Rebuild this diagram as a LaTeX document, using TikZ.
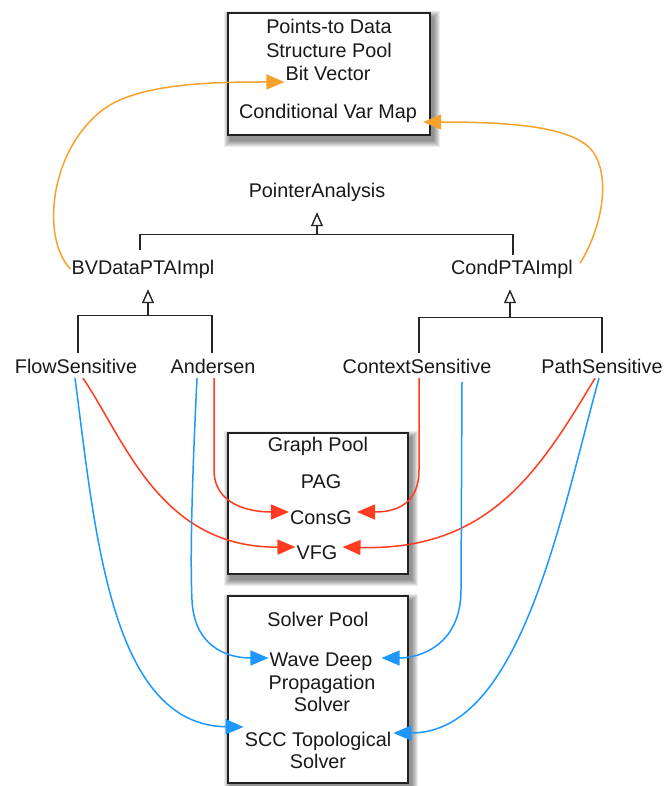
\documentclass[tikz,border=0pt]{standalone}
\usepackage{fontspec}
\setmainfont{Liberation Sans}
\usetikzlibrary{arrows.meta,backgrounds}
\definecolor{lnorange}{RGB}{247,162,43}
\definecolor{lnred}{RGB}{255,60,32}
\definecolor{lnblue}{RGB}{30,152,255}
\definecolor{boxline}{RGB}{34,34,34}

\begin{document}
\begin{tikzpicture}[x=1pt,y=-1pt,
  lbl/.style={font=\fontsize{19.8}{23}\selectfont, text=black!90, inner sep=1pt,
    text height=14pt, text depth=4pt},
  pool/.style={draw=boxline, line width=1.7pt, fill=white, inner sep=0pt},
  bar/.style={draw=black!85, line width=1.4pt},
  inh/.style={bar, -{Triangle[open,length=14pt,width=12pt]}},
  link/.style={line width=1.5pt, -{Triangle[length=18pt,width=15pt]}},
  bvlink/.style={link, color=lnorange},
  graphlink/.style={link, color=lnred},
  solverlink/.style={link, color=lnblue}]

\useasboundingbox (0,0) rectangle (665,786);

% pools
\node[pool, minimum width=202pt, minimum height=122pt] (dsp) at (329,74) {};
\node[pool, minimum width=180pt, minimum height=141pt] (gpool) at (318,503.5) {};
\node[pool, minimum width=180pt, minimum height=187pt] (spool) at (318,689.5) {};

% pool contents
\node[lbl] (ttl1) at (329,29) {Points-to Data};
\node[lbl] (ttl2) at (329,53) {Structure Pool};
\node[lbl] (bitvec) at (328,76) {Bit Vector};
\node[lbl] (condmap) at (328,114) {Conditional Var Map};

\node[lbl] (gp) at (318,446) {Graph Pool};
\node[lbl] (pag) at (321,483) {PAG};
\node[lbl] (consg) at (321,519) {ConsG};
\node[lbl] (vfg) at (317,554) {VFG};

\node[lbl] (sp) at (318,621) {Solver Pool};
\node[lbl] (wd1) at (321,661) {Wave Deep};
\node[lbl] (wd2) at (322,684) {Propagation};
\node[lbl] (wd3) at (322,706) {Solver};
\node[lbl] (scc1) at (318,741) {SCC Topological};
\node[lbl] (scc2) at (318,763) {Solver};

% class hierarchy
\node[lbl] (pa) at (317,193) {PointerAnalysis};
\node[lbl] (bv) at (143,269) {BVDataPTAImpl};
\node[lbl] (cp) at (512,269) {CondPTAImpl};
\node[lbl] (fs) at (76,368) {FlowSensitive};
\node[lbl] (an) at (213,368) {Andersen};
\node[lbl] (cs) at (417,368) {ContextSensitive};
\node[lbl] (ps) at (602,368) {PathSensitive};

% inheritance
\draw[bar] ([xshift=-3pt,yshift=9pt]bv.north) |- ([yshift=-31pt]pa.south);
\draw[bar] ([xshift=1pt,yshift=4pt]cp.north) |- ([yshift=-31pt]pa.south);
\draw[inh] ([yshift=-31pt]pa.south) -- ([yshift=-9pt]pa.south);

\draw[bar] ([xshift=2pt,yshift=5pt]fs.north) |- ([xshift=5pt,yshift=-36pt]bv.south);
\draw[bar] ([xshift=-1pt,yshift=5pt]an.north) |- ([xshift=5pt,yshift=-36pt]bv.south);
\draw[inh] ([xshift=5pt,yshift=-36pt]bv.south) -- ([xshift=5pt,yshift=-10pt]bv.south);

\draw[bar] ([xshift=2pt,yshift=5pt]cs.north) |- ([xshift=-2pt,yshift=-38pt]cp.south);
\draw[bar] ([yshift=5pt]ps.north) |- ([xshift=-2pt,yshift=-38pt]cp.south);
\draw[inh] ([xshift=-2pt,yshift=-38pt]cp.south) -- ([xshift=-2pt,yshift=-10pt]cp.south);

% points-to data structures
\draw[bvlink] (bv.west) .. controls (42,240) and (48,155) .. (100,112)
  .. controls (135,82) and (220,82) .. ([yshift=-6pt]bitvec.west);
\draw[bvlink] ([xshift=6pt,yshift=6pt]cp.east) .. controls (598,235) and (612,185) .. (595,155)
  .. controls (580,128) and (520,122) .. ([xshift=5pt,yshift=-8pt]condmap.east);

% graphs
\draw[graphlink] ([xshift=7pt]fs.south) .. controls (125,440) and (160,548) .. ([yshift=7pt]vfg.west);
\draw[graphlink] ([xshift=1pt]an.south) -- (214,470)
  .. controls (214,505) and (250,512) .. ([yshift=7pt]consg.west);
\draw[graphlink] ([xshift=2pt]cs.south) -- (419,470)
  .. controls (419,505) and (395,512) .. ([xshift=4pt,yshift=7pt]consg.east);
\draw[graphlink] ([xshift=-7pt]ps.south) .. controls (540,470) and (490,551) .. ([xshift=4pt,yshift=7pt]vfg.east);

% solvers
\draw[solverlink] ([xshift=-1pt]fs.south) .. controls (95,530) and (110,725) .. ([yshift=14pt]scc1.west);
\draw[solverlink] ([xshift=-16pt]an.south) .. controls (192,480) and (190,560) .. (192,600)
  .. controls (194,645) and (225,658) .. ([yshift=3pt]wd1.west);
\draw[solverlink] ([xshift=45pt,yshift=-4pt]cs.south) -- (461,590)
  .. controls (461,645) and (420,658) .. ([xshift=8pt,yshift=3pt]wd1.east);
\draw[solverlink] ([xshift=-3pt]ps.south) .. controls (560,520) and (520,733) .. ([xshift=1pt,yshift=8pt]scc1.east);

% page and soft drop shadows of the pools
\begin{scope}[on background layer]
  \fill[white] (0,0) rectangle (665,786);
  \foreach \bx in {dsp,gpool,spool}{
    \foreach \rr in {0,1,...,6}{
      \fill[black, opacity=0.075]
        ([xshift=3pt-\rr pt, yshift=-5pt+\rr pt]\bx.north west)
        rectangle ([xshift=3pt+\rr pt, yshift=-5pt-\rr pt]\bx.south east);
    }
  }
\end{scope}
\end{tikzpicture}
\end{document}
